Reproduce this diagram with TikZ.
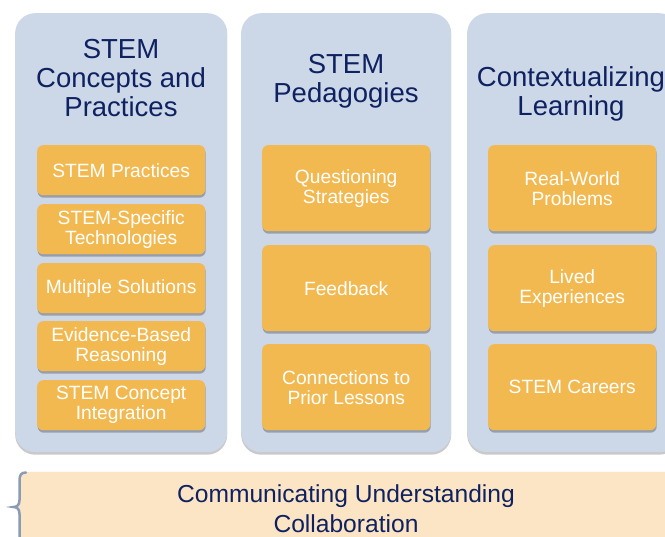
\documentclass[tikz,border=0pt]{standalone}
\usepackage{fontspec}
\setmainfont{Liberation Sans}
\usetikzlibrary{shadows}
\definecolor{colfill}{HTML}{CCD7E7}
\definecolor{boxfill}{HTML}{F2B951}
\definecolor{navy}{HTML}{0E2160}
\definecolor{peach}{HTML}{FCE5C4}
\definecolor{bracecol}{HTML}{8C9BB4}
\tikzset{
  colbox/.style={draw=none, fill=colfill, rounded corners=20pt, anchor=north west,
    inner sep=0pt, drop shadow={shadow xshift=0pt, shadow yshift=-2.5pt, opacity=0.35, fill=black!60}},
  coltitle/.style={text=navy, align=center, inner sep=0pt, font=\fontsize{27.5}{29}\selectfont},
  itembox/.style={draw=none, fill=boxfill, rounded corners=6pt, anchor=north west, inner sep=0pt,
    text=white, align=center, font=\fontsize{19.2}{20}\selectfont,
    drop shadow={shadow xshift=0.5pt, shadow yshift=-2.5pt, opacity=0.4, fill=black!70}},
  bandtext/.style={text=navy, align=center, inner sep=0pt, font=\fontsize{24.6}{30}\selectfont},
}
\begin{document}
\begin{tikzpicture}[x=1pt, y=-1pt]
\useasboundingbox (0,0) rectangle (665,537);
\fill[white] (0,0) rectangle (665,537);
% columns
\node[colbox, minimum width=212pt, minimum height=439pt] (c1) at (15,13) {};
\node[colbox, minimum width=210pt, minimum height=439pt] (c2) at (241,13) {};
\node[colbox, minimum width=212pt, minimum height=439pt] (c3) at (467,13) {};
% titles
\node[coltitle] (t1) at (121,78.5) {STEM\\Concepts and\\Practices};
\node[coltitle] (t2) at (346,81.5) {STEM\\Pedagogies};
\node[coltitle] (t3) at (571,94) {Contextualizing\\Learning};
% column 1 items
\node[itembox, minimum width=168pt, minimum height=50pt] (b11) at (37,145) {STEM Practices};
\node[itembox, minimum width=168pt, minimum height=50pt] (b12) at (37,204) {STEM-Specific\\Technologies};
\node[itembox, minimum width=168pt, minimum height=50pt] (b13) at (37,263) {Multiple Solutions};
\node[itembox, minimum width=168pt, minimum height=50pt] (b14) at (37,321) {Evidence-Based\\Reasoning};
\node[itembox, minimum width=168pt, minimum height=50pt] (b15) at (37,380) {STEM Concept\\Integration};
% column 2 items
\node[itembox, minimum width=168pt, minimum height=86pt] (b21) at (262,145) {Questioning\\Strategies};
\node[itembox, minimum width=168pt, minimum height=86pt] (b22) at (262,245) {Feedback};
\node[itembox, minimum width=168pt, minimum height=86pt] (b23) at (262,344) {Connections to\\Prior Lessons};
% column 3 items
\node[itembox, minimum width=168pt, minimum height=86pt] (b31) at (488,145) {Real-World\\Problems};
\node[itembox, minimum width=168pt, minimum height=86pt] (b32) at (488,245) {Lived\\Experiences};
\node[itembox, minimum width=168pt, minimum height=86pt] (b33) at (488,344) {STEM Careers};
% bottom band
\fill[peach] (19,478) .. controls (19,474) and (21,472) .. (25,472) -- (670,472) -- (670,545) -- (19,545) -- cycle;
\draw[bracecol, line width=2.5pt, line cap=round]
  (26,472.5) .. controls (21,472.5) and (19.5,475) .. (19.5,481) -- (19.5,500)
  .. controls (19.5,505) and (17,507) .. (13.5,507)
  .. controls (17,507) and (19.5,509) .. (19.5,514) -- (19.5,545);
\node[bandtext] (band) at (346,509) {Communicating Understanding\\Collaboration};
\end{tikzpicture}
\end{document}
